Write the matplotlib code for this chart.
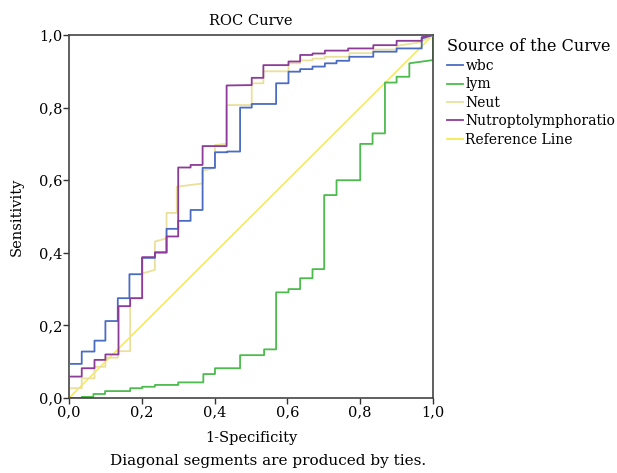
import matplotlib
matplotlib.use("Agg")
import matplotlib.pyplot as plt

plt.rcParams['font.family'] = ['DejaVu Serif']

# ---- data ----
wbc_fpr = [0, 0, 0.035, 0.035, 0.07, 0.07, 0.10, 0.10, 0.134, 0.134, 0.166, 0.166, 0.201, 0.201,
           0.236, 0.236, 0.268, 0.268, 0.30, 0.30, 0.334, 0.334, 0.367, 0.367, 0.401, 0.401,
           0.435, 0.435, 0.47, 0.47, 0.502, 0.502, 0.569, 0.569, 0.603, 0.603, 0.635, 0.635,
           0.669, 0.669, 0.703, 0.703, 0.735, 0.735, 0.77, 0.77, 0.836, 0.836, 0.90, 0.90,
           0.969, 0.969, 1.0]
wbc_tpr = [0, 0.094, 0.094, 0.128, 0.128, 0.158, 0.158, 0.212, 0.212, 0.275, 0.275, 0.341, 0.341, 0.386,
           0.386, 0.401, 0.401, 0.466, 0.466, 0.488, 0.488, 0.518, 0.518, 0.634, 0.634, 0.677,
           0.677, 0.679, 0.679, 0.80, 0.80, 0.81, 0.81, 0.867, 0.867, 0.899, 0.899, 0.906,
           0.906, 0.913, 0.913, 0.922, 0.922, 0.929, 0.929, 0.94, 0.94, 0.954, 0.954, 0.963,
           0.963, 0.99, 1.0]

lym_fpr = [0, 0.035, 0.035, 0.067, 0.067, 0.099, 0.099, 0.168, 0.168, 0.201, 0.201, 0.236, 0.236,
           0.30, 0.30, 0.369, 0.369, 0.401, 0.401, 0.47, 0.47, 0.536, 0.536, 0.569, 0.569,
           0.603, 0.603, 0.635, 0.635, 0.669, 0.669, 0.701, 0.701, 0.735, 0.735, 0.80, 0.80,
           0.834, 0.834, 0.868, 0.868, 0.90, 0.90, 0.935, 0.935, 1.0, 1.0]
lym_tpr = [0, 0, 0.003, 0.003, 0.011, 0.011, 0.019, 0.019, 0.027, 0.027, 0.031, 0.031, 0.036,
           0.036, 0.043, 0.043, 0.066, 0.066, 0.082, 0.082, 0.118, 0.118, 0.134, 0.134, 0.291,
           0.291, 0.300, 0.300, 0.330, 0.330, 0.355, 0.355, 0.559, 0.559, 0.60, 0.60, 0.70,
           0.70, 0.729, 0.729, 0.869, 0.869, 0.885, 0.885, 0.922, 0.931, 1.0]

neut_fpr = [0, 0, 0.035, 0.035, 0.07, 0.07, 0.10, 0.10, 0.134, 0.134, 0.168, 0.168, 0.201, 0.201,
            0.236, 0.236, 0.268, 0.268, 0.296, 0.296, 0.367, 0.367, 0.401, 0.401, 0.433, 0.433,
            0.502, 0.502, 0.534, 0.534, 0.603, 0.603, 0.635, 0.635, 0.669, 0.669, 0.703, 0.703,
            0.77, 0.77, 0.836, 0.836, 0.90, 0.90, 0.965, 1.0]
neut_tpr = [0, 0.027, 0.027, 0.054, 0.054, 0.086, 0.086, 0.111, 0.111, 0.129, 0.129, 0.275, 0.275, 0.343,
            0.353, 0.431, 0.44, 0.51, 0.51, 0.582, 0.591, 0.626, 0.634, 0.697, 0.70, 0.807,
            0.807, 0.867, 0.867, 0.90, 0.90, 0.922, 0.922, 0.93, 0.93, 0.935, 0.935, 0.94,
            0.94, 0.95, 0.95, 0.96, 0.96, 0.97, 0.98, 1.0]

nlr_fpr = [0, 0, 0.035, 0.035, 0.07, 0.07, 0.10, 0.10, 0.136, 0.136, 0.168, 0.168, 0.201, 0.201,
           0.236, 0.236, 0.268, 0.268, 0.30, 0.30, 0.334, 0.334, 0.367, 0.367, 0.433, 0.433,
           0.502, 0.502, 0.534, 0.534, 0.603, 0.603, 0.635, 0.635, 0.669, 0.669, 0.703, 0.703,
           0.767, 0.767, 0.836, 0.836, 0.90, 0.90, 0.969, 0.969, 1.0]
nlr_tpr = [0, 0.059, 0.059, 0.082, 0.082, 0.105, 0.105, 0.12, 0.12, 0.253, 0.253, 0.275, 0.275, 0.388,
           0.388, 0.401, 0.401, 0.445, 0.445, 0.635, 0.635, 0.642, 0.642, 0.694, 0.694, 0.861,
           0.862, 0.882, 0.882, 0.917, 0.917, 0.927, 0.927, 0.945, 0.945, 0.949, 0.949, 0.957,
           0.957, 0.963, 0.963, 0.972, 0.972, 0.984, 0.984, 0.994, 1.0]

ref_x = [0, 1]
ref_y = [0, 1]

labels = ["wbc", "lym", "Neut", "Nutroptolymphoratio", "Reference Line"]
ticks = [0, 0.2, 0.4, 0.6, 0.8, 1.0]
tick_labels = ["0,0", "0,2", "0,4", "0,6", "0,8", "1,0"]

# ---- figure ----
fig = plt.figure(figsize=(6.17, 4.73), dpi=100)
ax = fig.add_axes([69/617, 1-398/473, 364/617, 363/473])

ax.plot(ref_x, ref_y, color="#f7e94f", lw=1.1, label=labels[4], zorder=1)
ax.plot(lym_fpr, lym_tpr, color="#4dbb4d", lw=1.3, label=labels[1], zorder=2)
ax.plot(neut_fpr, neut_tpr, color="#e9e19b", lw=1.3, label=labels[2], zorder=3)
ax.plot(wbc_fpr, wbc_tpr, color="#4b6cc3", lw=1.3, label=labels[0], zorder=4)
ax.plot(nlr_fpr, nlr_tpr, color="#8d3b98", lw=1.3, label=labels[3], zorder=5)

ax.set_xlim(0, 1)
ax.set_ylim(0, 1)
ax.set_xticks(ticks)
ax.set_yticks(ticks)
ax.set_xticklabels(tick_labels, fontsize=10.5)
ax.set_yticklabels(tick_labels, fontsize=10.5)
ax.tick_params(direction="out", length=4, width=1, colors="#333333", labelcolor="black", pad=1)
for s in ax.spines.values():
    s.set_color("#444444")
    s.set_linewidth(1.2)

ax.set_title("ROC Curve", fontsize=10.5, pad=7)
ax.set_xlabel("1-Specificity", fontsize=10.5, labelpad=9)
ax.set_ylabel("Sensitivity", fontsize=10.5, labelpad=11)
fig.text(268/617, 1-461/473, "Diagonal segments are produced by ties.", ha="center", va="center", fontsize=11)

handles, labs = ax.get_legend_handles_labels()
order = [labs.index(l) for l in labels]
leg = fig.legend([handles[i] for i in order], [labs[i] for i in order],
                 loc="upper left", bbox_to_anchor=(441/617, 1-32/473), frameon=False,
                 title="Source of the Curve", title_fontsize=11.5, fontsize=10,
                 handlelength=1.2, handletextpad=0.15, labelspacing=0.32, borderaxespad=0)
leg._legend_box.align = "left"
for h in leg.get_lines():
    h.set_linewidth(1.3)

fig.savefig("out.png", dpi=100)
